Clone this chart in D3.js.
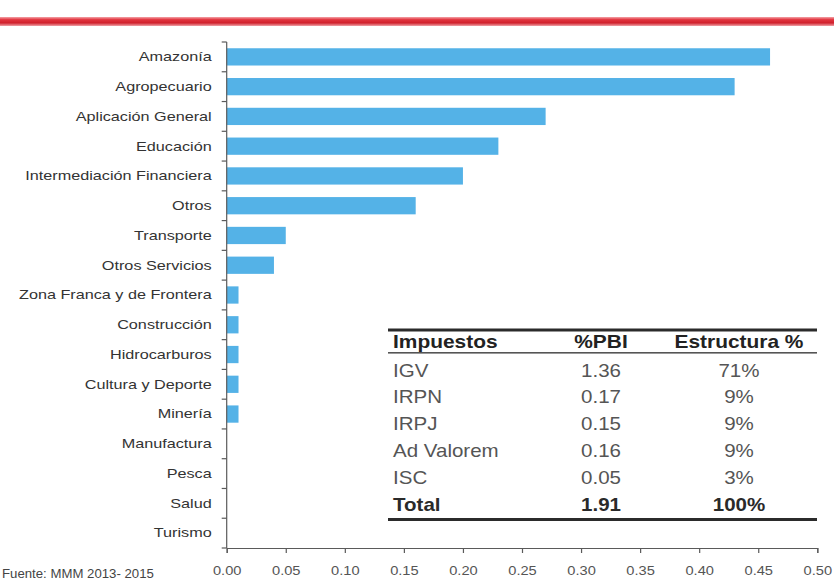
<!DOCTYPE html>
<html>
<head>
<meta charset="utf-8">
<script src="https://cdn.jsdelivr.net/npm/d3@7"></script>
<style>
  html, body { margin: 0; padding: 0; background: #ffffff; }
  svg { display: block; font-family: "Liberation Sans", Arial, sans-serif; }
</style>
</head>
<body>
<svg id="chart" width="834" height="582"></svg>
<script>
// ---- Data ----
const categories = ["Amazonía","Agropecuario","Aplicación General","Educación","Intermediación Financiera","Otros","Transporte","Otros Servicios","Zona Franca y de Frontera","Construcción","Hidrocarburos","Cultura y Deporte","Minería","Manufactura","Pesca","Salud","Turismo"];
const values = [0.46, 0.43, 0.27, 0.23, 0.20, 0.16, 0.05, 0.04, 0.01, 0.01, 0.01, 0.01, 0.01, 0, 0, 0, 0];
const xTicks = [0, 0.05, 0.10, 0.15, 0.20, 0.25, 0.30, 0.35, 0.40, 0.45, 0.50];

const tableHeaders = ["Impuestos", "%PBI", "Estructura %"];
const taxNames = ["IGV", "IRPN", "IRPJ", "Ad Valorem", "ISC"];
const taxPBI = ["1.36", "0.17", "0.15", "0.16", "0.05"];
const taxShare = ["71%", "9%", "9%", "9%", "3%"];
const totalRow = ["Total", "1.91", "100%"];
const sourceNote = "Fuente: MMM 2013- 2015";

// ---- Setup ----
const svg = d3.select("#chart");
const W = 834, H = 582;

function stretch(sel, s) {
  sel.each(function () {
    const w = this.getComputedTextLength();
    if (w > 0) {
      this.setAttribute("textLength", (w * s).toFixed(2));
      this.setAttribute("lengthAdjust", "spacingAndGlyphs");
    }
  });
}

// top red rule
const defs = svg.append("defs");
const grad = defs.append("linearGradient").attr("id", "redline")
  .attr("x1", 0).attr("y1", 0).attr("x2", 0).attr("y2", 1);
grad.append("stop").attr("offset", "0%").attr("stop-color", "#f4a3a8");
grad.append("stop").attr("offset", "30%").attr("stop-color", "#e2343e");
grad.append("stop").attr("offset", "65%").attr("stop-color", "#d0202c");
grad.append("stop").attr("offset", "100%").attr("stop-color", "#f0a0a6");
svg.append("rect").attr("x", 0).attr("y", 17).attr("width", W).attr("height", 9)
  .attr("fill", "url(#redline)");

// scales
const x = d3.scaleLinear().domain([0, 0.5]).range([226.7, 817.3]);
const y = d3.scaleBand().domain(categories).range([42, 548])
  .paddingInner(0.42).paddingOuter(0.21);

const axisColor = "#5a5a5a";

// bars
svg.append("g").selectAll("rect")
  .data(categories.map((c, i) => ({ c, v: values[i] })))
  .join("rect")
  .attr("x", x(0))
  .attr("y", d => y(d.c))
  .attr("width", d => x(d.v) - x(0))
  .attr("height", y.bandwidth())
  .attr("fill", "#54b2e7");

// y axis labels
const yAxis = svg.append("g")
  .attr("transform", `translate(${x(0)},0)`)
  .call(d3.axisLeft(y).tickSize(0).tickPadding(15));
yAxis.select(".domain").remove();
yAxis.selectAll("text")
  .attr("font-size", "13.5px")
  .attr("fill", "#333")
  .attr("font-family", "'Liberation Sans', Arial, sans-serif")
  .call(stretch, 1.2);

// y axis line + boundary ticks
const step = y.step();
const boundaries = categories.map(c => y(c) - y.paddingInner() * step / 2);
boundaries.push(y.range()[1]);
const yLine = svg.append("g");
yLine.append("line")
  .attr("x1", x(0)).attr("x2", x(0))
  .attr("y1", y.range()[0]).attr("y2", y.range()[1])
  .attr("stroke", axisColor).attr("stroke-width", 1.2);
yLine.selectAll("line.tick").data(boundaries).join("line")
  .attr("class", "tick")
  .attr("x1", x(0) - 5).attr("x2", x(0))
  .attr("y1", d => d).attr("y2", d => d)
  .attr("stroke", axisColor).attr("stroke-width", 1.2);

// x axis
const xAxis = svg.append("g")
  .attr("transform", `translate(0,${y.range()[1]})`)
  .call(d3.axisBottom(x).tickValues(xTicks).tickSize(5).tickPadding(13).tickFormat(d3.format(".2f")));
xAxis.select(".domain").attr("stroke", axisColor).attr("stroke-width", 1.2);
xAxis.selectAll(".tick line").attr("stroke", axisColor).attr("stroke-width", 1.2);
xAxis.selectAll("text")
  .attr("font-size", "12px")
  .attr("fill", "#555")
  .attr("font-family", "'Liberation Sans', Arial, sans-serif")
  .call(stretch, 1.22);

// source note (kept whole inside the frame)
svg.append("text")
  .attr("x", 2).attr("y", 578)
  .attr("text-anchor", "start")
  .attr("font-size", "12px")
  .attr("fill", "#444")
  .text(sourceNote)
  .call(stretch, 1.1);

// ---- Table ----
const tbl = svg.append("g");
const tLeft = 388, tRight = 817;
const colX = [393, 601, 739];
const colAnchor = ["start", "middle", "middle"];
const headerBase = 348;
const rowBase0 = 376.5, rowStep = 26.8;

tbl.append("rect").attr("x", tLeft).attr("y", 328.5).attr("width", tRight - tLeft).attr("height", 3)
  .attr("fill", "#2b2b2b");
tbl.append("rect").attr("x", tLeft).attr("y", 352).attr("width", tRight - tLeft).attr("height", 1.6)
  .attr("fill", "#555");
tbl.append("rect").attr("x", tLeft).attr("y", 518).attr("width", tRight - tLeft).attr("height", 3)
  .attr("fill", "#2b2b2b");

tbl.selectAll("text.hdr").data(tableHeaders).join("text")
  .attr("class", "hdr")
  .attr("x", (d, i) => colX[i]).attr("y", headerBase)
  .attr("text-anchor", (d, i) => colAnchor[i])
  .attr("font-size", "19px").attr("font-weight", "bold").attr("fill", "#222")
  .text(d => d)
  .call(stretch, 1.1);

const rows = taxNames.map((n, i) => [n, taxPBI[i], taxShare[i]]);
rows.forEach((r, ri) => {
  tbl.selectAll(null).data(r).join("text")
    .attr("x", (d, i) => colX[i]).attr("y", rowBase0 + ri * rowStep)
    .attr("text-anchor", (d, i) => colAnchor[i])
    .attr("font-size", "19px").attr("fill", "#555")
    .text(d => d)
    .call(stretch, 1.08);
});
tbl.selectAll(null).data(totalRow).join("text")
  .attr("x", (d, i) => colX[i]).attr("y", rowBase0 + rows.length * rowStep)
  .attr("text-anchor", (d, i) => colAnchor[i])
  .attr("font-size", "19px").attr("font-weight", "bold").attr("fill", "#2a2a2a")
  .text(d => d)
  .call(stretch, 1.08);
</script>
</body>
</html>
